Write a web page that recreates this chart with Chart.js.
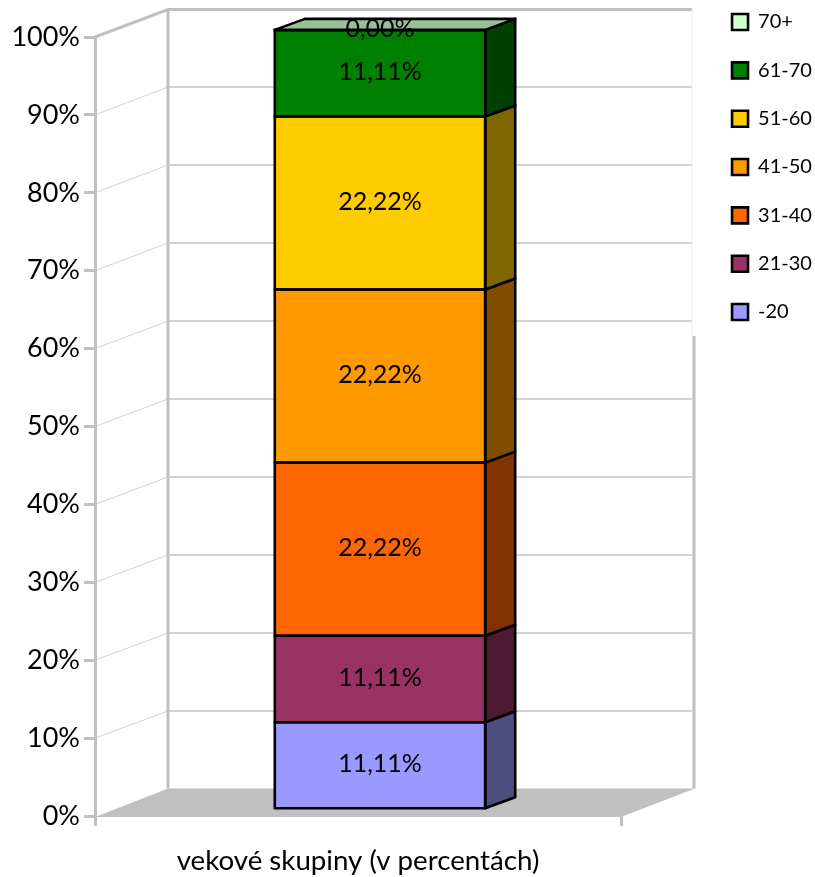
<!DOCTYPE html>
<html>
<head>
<meta charset="utf-8">
<script src="https://cdn.jsdelivr.net/npm/chart.js@4"></script>
<style>
  html, body { margin: 0; padding: 0; background: #fff; }
  #wrap { width: 815px; height: 877px; }
  canvas { display: block; }
</style>
</head>
<body>
<div id="wrap"><canvas id="myChart"></canvas></div>
<script>
var categories = ["vekové skupiny (v percentách)"];
var ageGroups = ["-20", "21-30", "31-40", "41-50", "51-60", "61-70", "70+"];
var shares = [11.11, 11.11, 22.22, 22.22, 22.22, 11.11, 0];
var frontColors = ["#9999FF", "#993366", "#FF6600", "#FF9900", "#FFCC00", "#008000", "#CCFFCC"];
var sideColors = ["#4D4D80", "#4D1A33", "#803300", "#804C00", "#806600", "#004000", "#668066"];
var topFaceColor = "#99BF99";

var FONT = "Lato";
var WALL = "#C0C0C0";
var GRID = "#D2D2D2";
var EDGE = 2.6;
// depth of the box (back wall) and of the bar, and where the bar sits inside the box
var wallDx = 73, wallDy = 27.5;
var barDx = 30, barDy = 11;
var barShiftX = 22, barShiftY = -7.2;

var datasets = ageGroups.map(function (name, i) {
    return {
        label: name,
        data: [shares[i]],
        backgroundColor: frontColors[i],
        borderColor: "#000",
        borderWidth: 0,
        clip: false,
        barPercentage: 0.4,
        categoryPercentage: 1
    };
});

// box walls + floor, behind everything
var wallsPlugin = {
    id: "walls",
    beforeDraw: function (chart) {
        var c = chart.ctx, y = chart.scales.y, a = chart.chartArea;
        var y0 = y.getPixelForValue(0), y100 = y.getPixelForValue(100);
        var backR = a.right + wallDx, backL = a.left + wallDx;
        c.save();
        c.fillStyle = WALL;
        c.beginPath();
        c.moveTo(a.left, y0 + 1);
        c.lineTo(backL, y0 - wallDy);
        c.lineTo(backR + 1, y0 - wallDy);
        c.lineTo(a.right, y0 + 1);
        c.closePath();
        c.fill();

        for (var v = 10; v < 100; v += 10) {
            var py = y.getPixelForValue(v);
            var backY = Math.round(py - wallDy);
            c.strokeStyle = GRID;
            c.lineWidth = 1;
            c.beginPath();
            c.moveTo(a.left, py);
            c.lineTo(backL, backY);
            c.stroke();
            c.lineWidth = 2;
            c.beginPath();
            c.moveTo(backL, backY);
            c.lineTo(backR - 2, backY);
            c.stroke();
        }

        c.strokeStyle = WALL;
        c.lineWidth = 3;
        c.beginPath();
        c.moveTo(a.left, y100);
        c.lineTo(backL, y100 - wallDy);
        c.lineTo(backR - 2, y100 - wallDy);
        c.moveTo(backL, y100 - wallDy);
        c.lineTo(backL, y0 - wallDy);
        c.moveTo(backR, 336);
        c.lineTo(backR, y0 - wallDy);
        c.stroke();
        c.strokeStyle = "#EEE";
        c.lineWidth = 1;
        c.beginPath();
        c.moveTo(backR - 2, y100 - wallDy);
        c.lineTo(backR - 2, 336);
        c.stroke();
        c.restore();
    }
};

// bar depth, side and top faces, outlines, value labels
var barPlugin = {
    id: "bar3d",
    beforeInit: function (chart) {
        var fit = chart.legend.fit;
        chart.legend.fit = function () {
            fit.call(this);
            this.width = 194;
        };
    },
    afterLayout: function (chart) {
        chart.legend.left = 703.7;
        chart.legend.top = -16.3;
    },
    beforeDatasetsDraw: function (chart) {
        chart.ctx.save();
        chart.ctx.translate(barShiftX, barShiftY);
    },
    afterDatasetsDraw: function (chart) {
        var c = chart.ctx, last = null;
        c.lineWidth = EDGE;
        c.strokeStyle = "#000";
        c.lineJoin = "round";
        ageGroups.forEach(function (name, i) {
            var b = chart.getDatasetMeta(i).data[0];
            var l = b.x - b.width / 2, r = b.x + b.width / 2;
            c.fillStyle = sideColors[i];
            c.beginPath();
            c.moveTo(r, b.y);
            c.lineTo(r + barDx, b.y - barDy);
            c.lineTo(r + barDx, b.base - barDy);
            c.lineTo(r, b.base);
            c.closePath();
            c.fill();
            c.stroke();
            c.strokeRect(l, b.y, b.width, b.base - b.y);
            last = b;
        });
        var l = last.x - last.width / 2, r = last.x + last.width / 2;
        c.fillStyle = topFaceColor;
        c.beginPath();
        c.moveTo(l, last.y);
        c.lineTo(l + barDx, last.y - barDy);
        c.lineTo(r + barDx, last.y - barDy);
        c.lineTo(r, last.y);
        c.closePath();
        c.fill();
        c.stroke();

        c.fillStyle = "#000";
        c.font = "25px " + FONT;
        c.textAlign = "center";
        c.textBaseline = "middle";
        ageGroups.forEach(function (name, i) {
            var b = chart.getDatasetMeta(i).data[0];
            c.fillText(shares[i].toFixed(2).replace(".", ",") + "%", b.x, (b.y + b.base) / 2 - 1);
        });
        c.restore();
    }
};

var ctx = document.getElementById("myChart").getContext("2d");
var myChart = new Chart(ctx, {
    type: "bar",
    data: { labels: categories, datasets: datasets },
    options: {
        responsive: true,
        maintainAspectRatio: false,
        animation: false,
        layout: { padding: { top: 37, left: 0, right: 0, bottom: 0 } },
        plugins: {
            tooltip: { enabled: false },
            legend: {
                position: "right",
                align: "start",
                reverse: true,
                labels: {
                    color: "#000",
                    boxWidth: 16,
                    boxHeight: 16,
                    padding: 28.33,
                    font: { family: FONT, size: 20 },
                    generateLabels: function (chart) {
                        var items = Chart.defaults.plugins.legend.labels.generateLabels(chart);
                        items.forEach(function (item) { item.lineWidth = EDGE; });
                        return items;
                    }
                }
            }
        },
        scales: {
            x: {
                stacked: true,
                afterFit: function (s) { s.height = 61; },
                grid: { drawOnChartArea: false, color: WALL, tickLength: 10, tickWidth: 3 },
                border: { display: false },
                ticks: {
                    color: "#000",
                    padding: 18,
                    maxRotation: 0,
                    font: { family: FONT, size: 27.7 }
                }
            },
            y: {
                stacked: true,
                min: 0,
                max: 100,
                afterFit: function (s) { s.width = 95; },
                grid: { drawOnChartArea: false, color: WALL, tickLength: 11, tickWidth: 3 },
                border: { color: WALL, width: 3 },
                ticks: {
                    stepSize: 10,
                    color: "#000",
                    padding: 4,
                    font: { family: FONT, size: 27 },
                    callback: function (value) { return value + "%"; }
                }
            }
        }
    },
    plugins: [wallsPlugin, barPlugin]
});
</script>
</body>
</html>
